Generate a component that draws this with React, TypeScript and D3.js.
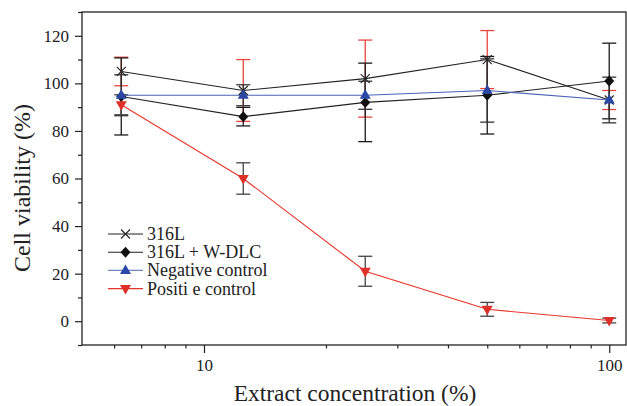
import { useEffect, useRef } from 'react';
import * as d3 from 'd3';

// extract concentrations (%)
const concentrations = [6.25, 12.5, 25, 50, 100];

const series316L = [105, 97, 102, 110, 93];
const err316L = [6, 13, 16.2, 12.2, 4];

const seriesWDLC = [94.5, 86, 92, 95, 101];
const errWDLC = [16.2, 3.9, 16.5, 16.3, 15.9];

const seriesNeg = [95, 95, 95, 97, 93];
const errNeg = [8.6, 4.4, 5.9, 13.3, 9.6];

const seriesPos = [91, 60, 21, 5, 0.3];
const errPos = [4.2, 6.6, 6.3, 2.9, 1];

const yTicks = [0, 20, 40, 60, 80, 100, 120];
const yMinor = [-10, 10, 30, 50, 70, 90, 110, 130];
const xTicks = [10, 100];
const xMinor = [6, 7, 8, 9, 20, 30, 40, 50, 60, 70, 80, 90];

const legendLabels = ['316L', '316L + W-DLC', 'Negative control', 'Positi e control'];

const FONT = "'Liberation Serif', 'DejaVu Serif', serif";

const App = () => {
  const svgRef = useRef<SVGSVGElement>(null);

  useEffect(() => {
    const svg = d3.select(svgRef.current);
    svg.selectAll('*').remove();

    const width = 627;
    const height = 406;
    const margin = { top: 12, right: 1, bottom: 61, left: 82 };

    const x = d3.scaleLog().domain([5, 110]).range([margin.left, width - margin.right]);
    const y = d3.scaleLinear().domain([-10, 130]).range([height - margin.bottom, margin.top]);

    svg.attr('width', width).attr('height', height).style('font-family', FONT);

    // frame
    svg.append('rect')
      .attr('x', margin.left)
      .attr('y', margin.top)
      .attr('width', width - margin.right - margin.left)
      .attr('height', height - margin.bottom - margin.top)
      .attr('fill', 'none')
      .attr('stroke', '#222')
      .attr('stroke-width', 1.3);

    // y axis
    const yAxis = svg.append('g')
      .attr('transform', `translate(${margin.left},0)`)
      .call(d3.axisLeft(y).tickValues(yTicks).tickSize(7).tickPadding(6).tickFormat(d3.format('d')));
    yAxis.select('.domain').remove();
    yAxis.attr('font-family', null).attr('font-size', null);
    yAxis.selectAll('text')
      .style('font-family', FONT)
      .style('font-size', '17px')
      .attr('fill', '#222');
    yAxis.selectAll('line').attr('stroke', '#222').attr('stroke-width', 1.2);

    const yMin = svg.append('g')
      .attr('transform', `translate(${margin.left},0)`)
      .call(d3.axisLeft(y).tickValues(yMinor).tickSize(4).tickFormat(() => ''));
    yMin.select('.domain').remove();
    yMin.selectAll('line').attr('stroke', '#222').attr('stroke-width', 1.2);

    // x axis
    const xAxis = svg.append('g')
      .attr('transform', `translate(0,${height - margin.bottom})`)
      .call(d3.axisBottom(x).tickValues(xTicks).tickSize(8).tickPadding(6).tickFormat(d3.format('d')));
    xAxis.select('.domain').remove();
    xAxis.attr('font-family', null).attr('font-size', null);
    xAxis.selectAll('text')
      .style('font-family', FONT)
      .style('font-size', '17px')
      .attr('fill', '#222');
    xAxis.selectAll('line').attr('stroke', '#222').attr('stroke-width', 1.2);

    const xMin = svg.append('g')
      .attr('transform', `translate(0,${height - margin.bottom})`)
      .call(d3.axisBottom(x).tickValues(xMinor).tickSize(3.5).tickFormat(() => ''));
    xMin.select('.domain').remove();
    xMin.selectAll('line').attr('stroke', '#222').attr('stroke-width', 1.2);

    // axis titles
    svg.append('text')
      .attr('x', 355)
      .attr('y', 401)
      .attr('text-anchor', 'middle')
      .style('font-family', FONT)
      .style('font-size', '23.5px')
      .attr('fill', '#222')
      .text('Extract concentration (%)');

    svg.append('text')
      .attr('transform', 'translate(30,188) rotate(-90)')
      .attr('text-anchor', 'middle')
      .style('font-family', FONT)
      .style('font-size', '24px')
      .attr('fill', '#222')
      .text('Cell viability (%)');

    const groups = [
      { vals: series316L, errs: err316L, line: '#222', errColor: '#e8453c', marker: 'x', fill: '#222' },
      { vals: seriesWDLC, errs: errWDLC, line: '#222', errColor: '#1a1a1a', marker: 'diamond', fill: '#111' },
      { vals: seriesNeg, errs: errNeg, line: '#4a63b8', errColor: '#333', marker: 'up', fill: '#2a47a6' },
      { vals: seriesPos, errs: errPos, line: '#e8352a', errColor: '#444', marker: 'down', fill: '#e0302a' },
    ];

    const lineGen = d3.line<number>()
      .x((_, i) => x(concentrations[i]))
      .y(d => y(d));

    // error bars
    groups.forEach(s => {
      const g = svg.append('g').attr('stroke', s.errColor).attr('stroke-width', 1.3);
      s.vals.forEach((v, i) => {
        const cx = x(concentrations[i]);
        const y1 = y(v + s.errs[i]);
        const y2 = y(v - s.errs[i]);
        g.append('line').attr('x1', cx).attr('x2', cx).attr('y1', y1).attr('y2', y2);
        g.append('line').attr('x1', cx - 7).attr('x2', cx + 7).attr('y1', y1).attr('y2', y1);
        g.append('line').attr('x1', cx - 7).attr('x2', cx + 7).attr('y1', y2).attr('y2', y2);
      });
    });

    // lines
    groups.forEach(s => {
      svg.append('path')
        .datum(s.vals)
        .attr('d', lineGen)
        .attr('fill', 'none')
        .attr('stroke', s.line)
        .attr('stroke-width', 1.1);
    });

    const drawMarker = (g: any, kind: string, cx: number, cy: number, fill: string) => {
      if (kind === 'x') {
        g.append('path')
          .attr('d', `M${cx - 4.5},${cy - 4.5}L${cx + 4.5},${cy + 4.5}M${cx - 4.5},${cy + 4.5}L${cx + 4.5},${cy - 4.5}`)
          .attr('stroke', fill)
          .attr('stroke-width', 1.1)
          .attr('fill', 'none');
      } else if (kind === 'diamond') {
        g.append('path')
          .attr('d', `M${cx},${cy - 5.5}L${cx + 5},${cy}L${cx},${cy + 5.5}L${cx - 5},${cy}Z`)
          .attr('fill', fill);
      } else if (kind === 'up') {
        g.append('path')
          .attr('d', `M${cx},${cy - 6}L${cx + 5.5},${cy + 3.5}L${cx - 5.5},${cy + 3.5}Z`)
          .attr('fill', fill);
      } else {
        g.append('path')
          .attr('d', `M${cx},${cy + 6}L${cx + 5.5},${cy - 3.5}L${cx - 5.5},${cy - 3.5}Z`)
          .attr('fill', fill);
      }
    };

    // markers
    groups.forEach(s => {
      const g = svg.append('g');
      s.vals.forEach((v, i) => drawMarker(g, s.marker, x(concentrations[i]), y(v), s.fill));
    });

    // legend
    const lg = svg.append('g');
    legendLabels.forEach((label, i) => {
      const s = groups[i];
      const ly = 234 + i * 18.2;
      lg.append('line')
        .attr('x1', 108).attr('x2', 143)
        .attr('y1', ly).attr('y2', ly)
        .attr('stroke', i === 2 ? '#7185c8' : s.line)
        .attr('stroke-width', 1.1);
      drawMarker(lg, s.marker, 125.5, ly, s.fill);
      lg.append('text')
        .attr('x', 147)
        .attr('y', ly + 6)
        .style('font-family', FONT)
        .style('font-size', '18px')
        .attr('fill', '#222')
        .text(label);
    });
  }, []);

  return (
    <div style={{ position: 'absolute', left: 0, top: 0 }}>
      <svg ref={svgRef} style={{ display: 'block', background: '#fff' }}></svg>
    </div>
  );
};

export default App;
